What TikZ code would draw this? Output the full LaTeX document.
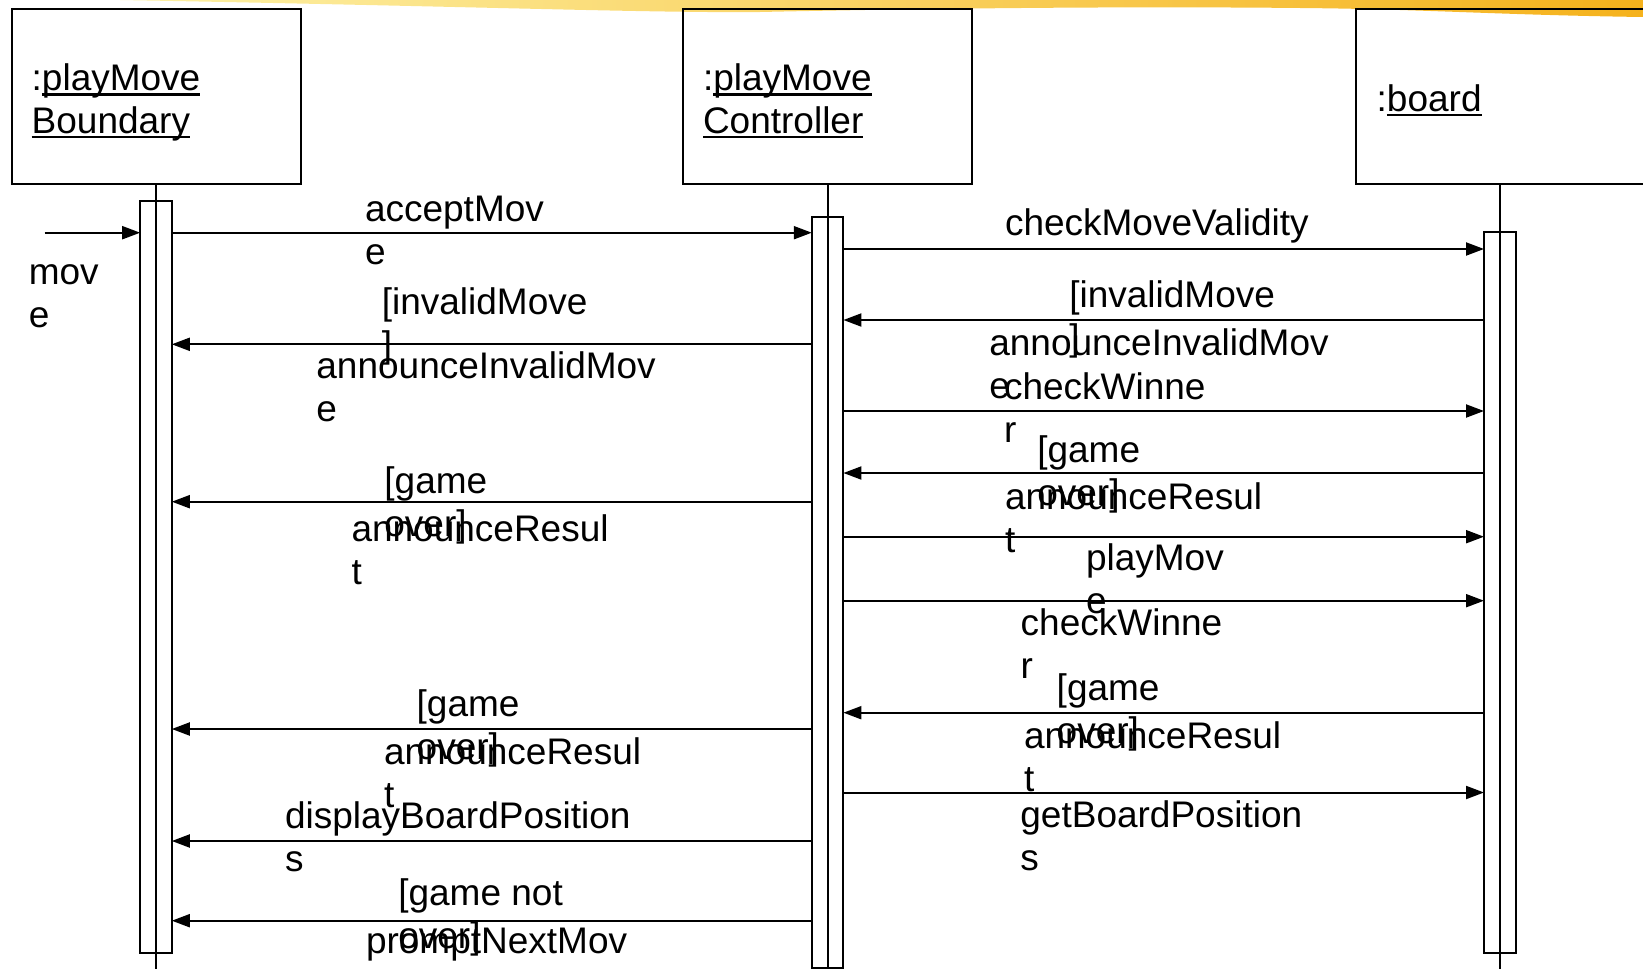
\documentclass[tikz,border=0pt]{standalone}
\usepackage{fontspec}
\setmainfont{Liberation Sans}
\usetikzlibrary{arrows.meta}

% underline at a fixed depth below the baseline, crossing descenders
\newcommand\ulbox[1]{\setbox0\hbox{#1}\rlap{\rule[-2.4pt]{\wd0}{1.1pt}}\box0}
% two-line label whose anchor sits on the first baseline
\newcommand\twoline[2]{\begin{tabular}[t]{@{}l@{}}#1\\#2\end{tabular}}

\definecolor{bannerPale}{HTML}{FDF1A6}
\definecolor{bannerMid}{HTML}{F9CF45}
\definecolor{bannerDeep}{HTML}{F5B21C}

\begin{document}
\begin{tikzpicture}[x=0.5pt,y=-0.5pt,
  every node/.style={inner sep=0pt,outer sep=0pt},
  lbl/.style={anchor=base west,font=\fontsize{18.5}{21.5}\selectfont},
  objbox/.style={draw,line width=1.1pt,anchor=north west,
    minimum width=144.3pt,minimum height=87.65pt},
  actbar/.style={draw,line width=1pt,anchor=north west,minimum width=15.8pt},
  life/.style={line width=1pt},
  msg/.style={line width=1pt,-{Triangle[length=9pt,width=6.5pt]}}]

\useasboundingbox (0,0) rectangle (1643,969);

% brush stroke along the top edge
\shade[left color=bannerPale,middle color=bannerMid,right color=bannerDeep]
  (120,0) -- (1643,0) -- (1643,17)
  .. controls (1500,15) and (1420,9) .. (1300,8)
  .. controls (1100,6) and (900,9) .. (760,12)
  .. controls (650,13) and (500,7) .. (120,0) -- cycle;

% object boxes
\node[objbox] (boxB) at (12,9) {};
\node[objbox] (boxC) at (683.3,9) {};
\node[objbox] (boxD) at (1355.7,9) {};

\node[lbl] (nB1) at (31.7,90.7) {:\ulbox{playMove}};
\node[lbl] (nB2) at (31.7,133) {\ulbox{Boundary}};
\node[lbl] (nC1) at (703,90.7) {:\ulbox{playMove}};
\node[lbl] (nC2) at (703,133) {\ulbox{Controller}};
\node[lbl] (nD1) at (1376.7,111) {:\ulbox{board}};

% lifelines
\coordinate (bottom) at (0,969);
\draw[life] (boxB.south) -- (boxB.south |- bottom);
\draw[life] (boxC.south) -- (boxC.south |- bottom);
\draw[life] (boxD.south) -- (boxD.south |- bottom);

% activation bars
\node[actbar,minimum height=376.15pt] (barB) at (140.2,200.7) {};
\node[actbar,minimum height=375.35pt] (barC) at (811.8,217.3) {};
\node[actbar,minimum height=360.2pt] (barD) at (1484,232.3) {};

% message rows
\coordinate (r1) at (0,232.7);
\coordinate (r2) at (0,249);
\coordinate (r3) at (0,320);
\coordinate (r4) at (0,344.3);
\coordinate (r5) at (0,411);
\coordinate (r6) at (0,473);
\coordinate (r7) at (0,501.7);
\coordinate (r8) at (0,536.7);
\coordinate (r9) at (0,600.7);
\coordinate (r10) at (0,712.7);
\coordinate (r11) at (0,729);
\coordinate (r12) at (0,792.5);
\coordinate (r13) at (0,841);
\coordinate (r14) at (0,920.7);
\coordinate (found) at (44.5,232.7);

% messages
\draw[msg] (found) -- (barB.west |- r1);
\draw[msg] (barB.east |- r1) -- (barC.west |- r1);
\draw[msg] (barC.east |- r2) -- (barD.west |- r2);
\draw[msg] (barD.west |- r3) -- (barC.east |- r3);
\draw[msg] (barC.west |- r4) -- (barB.east |- r4);
\draw[msg] (barC.east |- r5) -- (barD.west |- r5);
\draw[msg] (barD.west |- r6) -- (barC.east |- r6);
\draw[msg] (barC.west |- r7) -- (barB.east |- r7);
\draw[msg] (barC.east |- r8) -- (barD.west |- r8);
\draw[msg] (barC.east |- r9) -- (barD.west |- r9);
\draw[msg] (barD.west |- r10) -- (barC.east |- r10);
\draw[msg] (barC.west |- r11) -- (barB.east |- r11);
\draw[msg] (barC.east |- r12) -- (barD.west |- r12);
\draw[msg] (barC.west |- r13) -- (barB.east |- r13);
\draw[msg] (barC.west |- r14) -- (barB.east |- r14);

% labels, left half
\node[lbl] (lMove) at (28.8,284) {\twoline{mov}{e}};
\node[lbl] (lAccept) at (365,221) {\twoline{acceptMov}{e}};
\node[lbl] (lInvL) at (381.8,314.5) {\twoline{[invalidMove}{]}};
\node[lbl] (lAnnInvL) at (316.4,378) {\twoline{announceInvalidMov}{e}};
\node[lbl] (lOverL1) at (384.4,493.3) {\twoline{[game}{over]}};
\node[lbl] (lResL1) at (351.5,541) {\twoline{announceResul}{t}};
\node[lbl] (lOverL2) at (416.7,716.7) {\twoline{[game}{over]}};
\node[lbl] (lResL2) at (384,764.3) {\twoline{announceResul}{t}};
\node[lbl] (lDisplay) at (285,828.3) {\twoline{displayBoardPosition}{s}};
\node[lbl] (lNotOver) at (398.3,905) {\twoline{[game not}{over]}};
\node[lbl] (lPrompt) at (366,953.3) {promptNextMov};

% labels, right half
\node[lbl] (lCheckValid) at (1005,235.7) {checkMoveValidity};
\node[lbl] (lInvR) at (1069.3,307.3) {\twoline{[invalidMove}{]}};
\node[lbl] (lAnnInvR) at (989.3,355.7) {\twoline{announceInvalidMov}{e}};
\node[lbl] (lWin1) at (1004,399) {\twoline{checkWinne}{r}};
\node[lbl] (lOverR1) at (1037.3,462.3) {\twoline{[game}{over]}};
\node[lbl] (lResR1) at (1005,509) {\twoline{announceResul}{t}};
\node[lbl] (lPlay) at (1086,570) {\twoline{playMov}{e}};
\node[lbl] (lWin2) at (1020.7,635.7) {\twoline{checkWinne}{r}};
\node[lbl] (lOverR2) at (1056.7,700) {\twoline{[game}{over]}};
\node[lbl] (lResR2) at (1024,748.3) {\twoline{announceResul}{t}};
\node[lbl] (lGetBoard) at (1020.4,827.7) {\twoline{getBoardPosition}{s}};
\end{tikzpicture}
\end{document}
